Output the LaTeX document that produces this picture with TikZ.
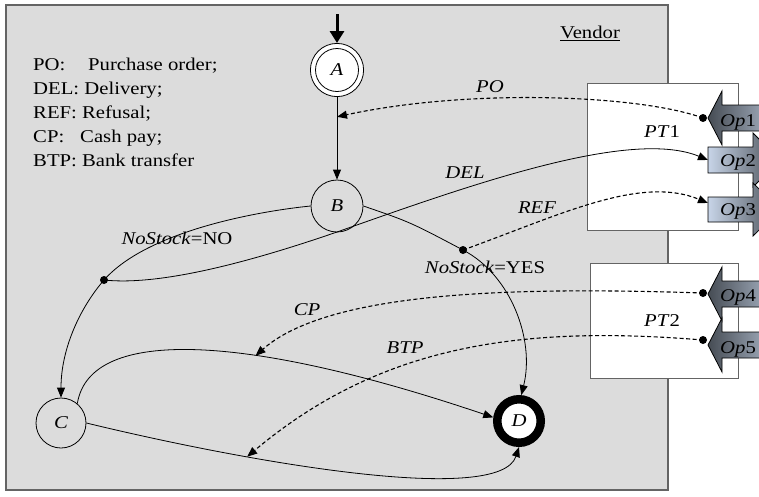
\documentclass[tikz,border=0pt]{standalone}
\usepackage{fontspec}
\setmainfont{Liberation Serif}[FakeStretch=1.15]
\usetikzlibrary{arrows.meta,calc}
\definecolor{bggray}{RGB}{220,220,220}
\definecolor{framegray}{RGB}{100,100,100}
\definecolor{opdark}{RGB}{70,76,84}
\definecolor{oplight}{RGB}{200,213,232}
\begin{document}
\begin{tikzpicture}[x=1pt,y=-1pt,
  txt/.style={font=\fontsize{18}{22}\selectfont, inner sep=0pt},
  ittxt/.style={inner sep=0pt, font=\fontsize{18}{22}\selectfont\itshape},
  state/.style={circle, draw, line width=0.8pt, fill=bggray, inner sep=0pt, font=\fontsize{18}{22}\selectfont\itshape},
  dotnode/.style={circle, fill=black, minimum size=8pt, inner sep=0pt},
  conn/.style={line width=0.8pt, -{Triangle[length=10pt,width=8pt]}},
  dconn/.style={conn, line width=1.1pt, dash pattern=on 4pt off 2.5pt},
  inport/.style={draw=black, line width=0.8pt, left color=opdark, right color=oplight},
  outport/.style={draw=black, line width=0.8pt, left color=oplight, right color=opdark},
  ptbox/.style={draw=framegray, line width=1pt, fill=white},
]
\useasboundingbox (0,0) rectangle (759,496);
\begin{scope}
\clip (0,0) rectangle (759,496);
\fill[white] (0,0) rectangle (759,496);
\draw[fill=bggray, draw=framegray, line width=1.3pt] (6,5) rectangle (668,490);
\draw[ptbox] (587,83) rectangle (738,230);
\draw[ptbox] (590,263) rectangle (738,378);
% output ports (right pointing)
\draw[outport] (708,147) -- (753,147) -- (753,133) -- (780,160) -- (753,187) -- (753,173) -- (708,173) -- cycle;
\draw[outport] (708,197) -- (753,197) -- (753,183) -- (780,209.5) -- (753,236) -- (753,222) -- (708,222) -- cycle;
% input ports (left pointing)
\draw[inport] (708,118) -- (722,91) -- (722,105) -- (795,105) -- (795,131) -- (722,131) -- (722,145) -- cycle;
\draw[inport] (708,294) -- (722,267) -- (722,281) -- (795,281) -- (795,307) -- (722,307) -- (722,321) -- cycle;
\draw[inport] (708,345) -- (722,318) -- (722,332) -- (795,332) -- (795,358) -- (722,358) -- (722,372) -- cycle;
\end{scope}

% port labels
\node[txt, anchor=base west] (op1) at (720,126) {\textit{Op}1};
\node[txt, anchor=base west] (op2) at (720,166) {\textit{Op}2};
\node[txt, anchor=base west] (op3) at (720,215) {\textit{Op}3};
\node[txt, anchor=base west] (op4) at (720,301) {\textit{Op}4};
\node[txt, anchor=base west] (op5) at (720,353) {\textit{Op}5};
\coordinate (op2in) at (708,160);
\coordinate (op3in) at (708,203);

% legend
\node[txt, anchor=base west] (lg1a) at (33,70) {PO:};
\node[txt, anchor=base west] (lg1b) at (88,70) {Purchase order;};
\node[txt, anchor=base west] (lg2) at (33,94) {DEL: Delivery;};
\node[txt, anchor=base west] (lg3) at (33,118) {REF: Refusal;};
\node[txt, anchor=base west] (lg4a) at (33,142) {CP:};
\node[txt, anchor=base west] (lg4b) at (80,142) {Cash pay;};
\node[txt, anchor=base west] (lg5) at (33,166) {BTP: Bank transfer};
\node[txt] (vendor) at (590,33) {\underline{Vendor}};

% states
\node[state, fill=white, minimum size=53.2pt] (A) at (337,70) {};
\draw[line width=0.8pt] (A.center) circle (21.5);
\node[ittxt] at (A.center) {A};
\node[state, minimum size=52pt] (B) at (337,206) {B};
\node[state, minimum size=50pt] (C) at (61,423) {C};
\node[state, fill=white, line width=8.5pt, minimum size=43.5pt] (D) at (519,421) {D};

% dots
\node[dotnode] (d1) at (703,118) {};
\node[dotnode] (d4) at (703,293) {};
\node[dotnode] (d5) at (703,340) {};
\node[dotnode] (dno) at (104,280) {};
\node[dotnode] (dyes) at (463,250) {};

% initial arrow
\coordinate (start) at (337,14);
\draw[line width=3pt, -{Triangle[length=12pt,width=14pt]}] (start) -- (A.north);

% A -> B
\draw[conn] (A.south) -- (B.north);
\coordinate (poEnd) at ($(A.south)!0.24!(B.north)$);

% B -> C via NO
\draw[conn] (B.west) .. controls (270,210) and (150,228) .. (dno.center) .. controls (79,309) and (61,350) .. (C.north);
% B -> D via YES
\draw[conn] (B.east) .. controls (410,222) .. (dyes.center) .. controls (511,275) and (535,340) .. (D.85);
% C -> D upper
\draw[conn] (C.50) .. controls (90,325) and (250,335) .. (D.172) coordinate[pos=0.62] (cpEnd);
% C -> D lower
\draw[conn] (C.east) .. controls (260,465) and (500,505) .. (D.south) coordinate[pos=0.29] (btpEnd);
% DEL
\draw[conn] (dno.center) .. controls (160,286) and (250,262) .. (337,232) .. controls (470,185) and (630,128) .. (op2in);
% dashed messages
\draw[dconn] (d1.center) .. controls (640,95) and (470,88) .. (poEnd);
\draw[dconn] (dyes.center) .. controls (560,215) and (640,175) .. (op3in);
\draw[dconn] (d4.center) .. controls (520,287) and (330,290) .. (cpEnd);
\draw[dconn] (d5.center) .. controls (520,325) and (380,345) .. (btpEnd);

% labels
\node[ittxt] (lpo) at (490,87) {PO};
\node[txt] (lpt1) at (662,132) {\textit{PT}1};
\node[ittxt] (ldel) at (465,173) {DEL};
\node[ittxt] (lref) at (537,208) {REF};
\node[txt] (lno) at (177,238) {\textit{NoStock}=NO};
\node[txt] (lyes) at (485,267) {\textit{NoStock}=YES};
\node[ittxt] (lcp) at (307,310) {CP};
\node[txt] (lpt2) at (662,321) {\textit{PT}2};
\node[ittxt] (lbtp) at (405,348) {BTP};
\end{tikzpicture}
\end{document}
